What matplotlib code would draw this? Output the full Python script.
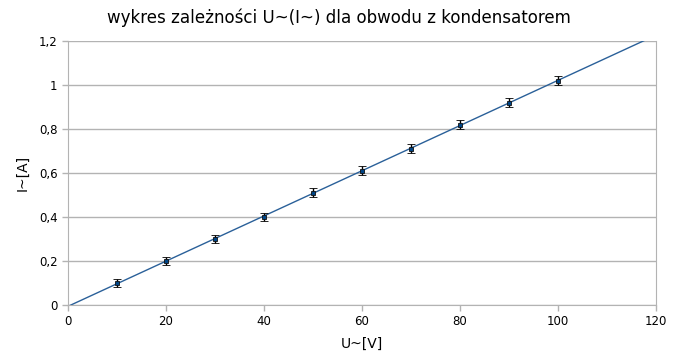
import matplotlib.pyplot as plt
import numpy as np
from matplotlib.ticker import FuncFormatter

# measured points
u = [10, 20, 30, 40, 50, 60, 70, 80, 90, 100]
i = [0.10, 0.20, 0.30, 0.40, 0.51, 0.61, 0.71, 0.82, 0.92, 1.02]
i_err = [0.02] * len(u)

grid_col = '#b3b3b3'

fig = plt.figure(figsize=(6.78, 3.59), dpi=100)
ax = fig.add_axes([0.1003, 0.1504, 0.8673, 0.7354])

# linear trend line
a, b = np.polyfit(u, i, 1)
xs = np.array([0, 120])
ax.plot(xs, a * xs + b, color='#2a6099', lw=1, zorder=2)

ax.errorbar(u, i, yerr=i_err, fmt='s', ms=3.3, mfc='#004586', mec='#111111',
            mew=0.6, ecolor='black', elinewidth=1, capsize=2.6, capthick=1,
            zorder=3)

ax.set_xlim(0, 120)
ax.set_ylim(0, 1.2)
ax.set_xticks(np.arange(0, 121, 20))
ax.set_yticks(np.arange(0, 1.21, 0.2))
ax.yaxis.set_major_formatter(FuncFormatter(lambda v, p: f'{v:g}'.replace('.', ',')))
ax.grid(axis='y', color=grid_col, lw=1)
ax.set_axisbelow(True)
for s in ax.spines.values():
    s.set_color(grid_col)
ax.spines['top'].set_visible(False)
ax.tick_params(colors=grid_col, labelcolor='black', labelsize=8.5, length=4, width=1)

ax.set_xlabel('U~[V]', fontsize=10, labelpad=6)
ax.set_ylabel('I~[A]', fontsize=10, labelpad=7)
fig.suptitle('wykres zależności U~(I~) dla obwodu z kondensatorem',
             family='DejaVu Sans', stretch='condensed', fontsize=13.3, y=0.977)

fig.savefig('out.png')
